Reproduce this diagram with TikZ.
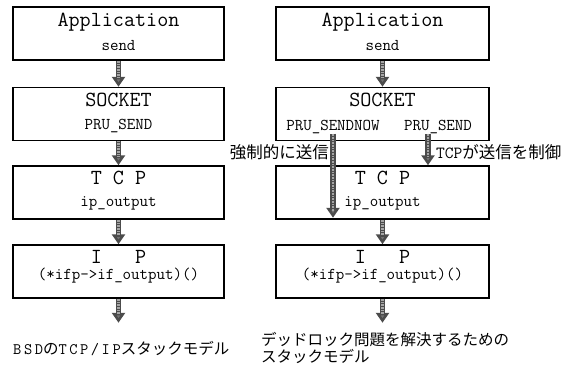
\documentclass[tikz,border=0pt]{standalone}
\usepackage{fontspec}
\newfontfamily\jpfont{Noto Sans CJK JP}
\newfontfamily\capmono[LetterSpace=16]{Latin Modern Mono}
\usetikzlibrary{arrows.meta,calc}

\tikzset{
  layer/.style={draw=black,line width=1.5pt,minimum height=53pt,inner sep=0pt},
  title/.style={font=\ttfamily\fontsize{21.5}{21.5}\selectfont,inner sep=0pt,anchor=base},
  call/.style={font=\ttfamily\fontsize{16.5}{16.5}\selectfont,inner sep=0pt,anchor=base},
  note/.style={font=\jpfont\fontsize{16.5}{16.5}\selectfont,inner sep=0pt},
  capt/.style={font=\jpfont\fontsize{15.5}{15.5}\selectfont,inner sep=0pt,anchor=base west},
  flow/.style={line width=5.5pt,draw=black!70,
    -{Triangle[width=13pt,length=10pt,fill=black!55]},
    postaction={draw=black!35,line width=2.5pt,dash pattern=on 1pt off 0.6pt,
      shorten >=9pt,-}},
}

\begin{document}
\begin{tikzpicture}[x=1pt,y=-1pt]
  \useasboundingbox (0,0) rectangle (574,368);

  % left stack: plain BSD path
  \node[layer,minimum width=211pt] (appl)  at (118.5,33.5)  {};
  \node[layer,minimum width=211pt] (sockl) at (118.5,114)   {};
  \node[layer,minimum width=211pt] (tcpl)  at (118.5,192.5) {};
  \node[layer,minimum width=211pt] (ipl)   at (118.5,271.5) {};

  \node[title] (appl-t)  at ([yshift=-20pt]appl.north)  {Application};
  \node[call]  (appl-s)  at ([yshift=-44pt]appl.north)  {send};
  \node[title] (sockl-t) at ([yshift=-20pt]sockl.north) {SOCKET};
  \node[call]  (sockl-s) at ([yshift=-43pt]sockl.north) {PRU\_SEND};
  \node[title] (tcpl-t)  at ([yshift=-19pt]tcpl.north)  {T C P};
  \node[call]  (tcpl-s)  at ([yshift=-41pt]tcpl.north)  {ip\_output};
  \node[title] (ipl-t)   at ([yshift=-19pt]ipl.north)   {I\ \ \ P};
  \node[call]  (ipl-s)   at ([yshift=-35pt]ipl.north)   {(*ifp->if\_output)()};

  \coordinate (outl) at ([yshift=-24pt]ipl.south);
  \draw[flow] (appl.south)  -- (sockl.north);
  \draw[flow] (sockl.south) -- (tcpl.north);
  \draw[flow] (tcpl.south)  -- (ipl.north);
  \draw[flow] (ipl.south)   -- (outl);

  % right stack: forced send bypasses TCP
  \node[layer,minimum width=213pt] (appr)  at (382.5,33.5)  {};
  \node[layer,minimum width=213pt] (sockr) at (382.5,114)   {};
  \node[layer,minimum width=213pt] (tcpr)  at (382.5,192.5) {};
  \node[layer,minimum width=213pt] (ipr)   at (382.5,271.5) {};

  \node[title] (appr-t)  at ([yshift=-20pt]appr.north)  {Application};
  \node[call]  (appr-s)  at ([yshift=-44pt]appr.north)  {send};
  \node[title] (sockr-t) at ([yshift=-20pt]sockr.north) {SOCKET};
  \node[call]  (sendnow) at (333,130) {PRU\_SENDNOW};
  \node[call]  (prusend) at (438,130) {PRU\_SEND};
  \node[title] (tcpr-t)  at ([yshift=-19pt]tcpr.north)  {T C P};
  \node[call]  (tcpr-s)  at ([yshift=-41pt]tcpr.north)  {ip\_output};
  \node[title] (ipr-t)   at ([yshift=-19pt]ipr.north)   {I\ \ \ P};
  \node[call]  (ipr-s)   at ([yshift=-35pt]ipr.north)   {(*ifp->if\_output)()};

  \coordinate (sendtap) at ([xshift=-10pt]prusend.south);
  \coordinate (outr) at ([yshift=-24pt]ipr.south);
  \draw[flow] (appr.south) -- (sockr.north);
  \draw[flow,shorten >=2pt] (sendnow.south) -- (sendnow.south |- tcpr.south);
  \draw[flow] (sendtap) -- (sendtap |- tcpr.north);
  \draw[flow] (tcpr.south) -- (ipr.north);
  \draw[flow] (ipr.south)  -- (outr);

  \node[note,anchor=east] (force) at (329,152) {強制的に送信};
  \node[note,anchor=west] (ctrl)  at (436,152)
    {{\ttfamily\fontsize{17}{17}\selectfont TCP}が送信を制御};

  % captions
  \node[capt] (capl)  at (13,354)  {{\capmono\fontsize{16}{16}\selectfont BSD}の{\capmono\fontsize{16}{16}\selectfont TCP/IP}スタックモデル};
  \node[capt] (capr1) at (261,345) {デッドロック問題を解決するための};
  \node[capt] (capr2) at (261,362) {スタックモデル};
\end{tikzpicture}
\end{document}
